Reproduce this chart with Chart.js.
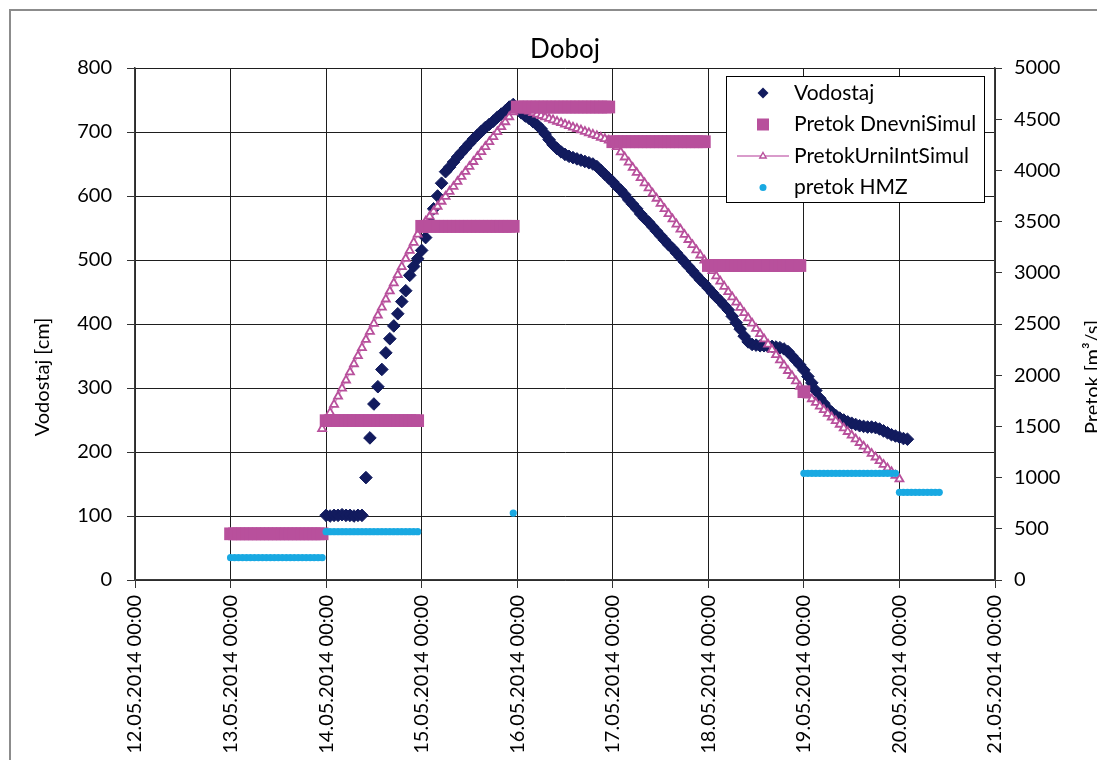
<!DOCTYPE html>
<html>
<head>
<meta charset="utf-8">
<title>Doboj</title>
<script src="https://cdn.jsdelivr.net/npm/chart.js@4.4.1/dist/chart.umd.min.js"></script>
<style>
  html, body { margin: 0; padding: 0; background: #fff; overflow: hidden; }
  #wrap { position: absolute; left: 0; top: 0; width: 1180px; height: 860px; }
  canvas { display: block; }
</style>
</head>
<body>
<div id="wrap"><canvas id="chart" width="1180" height="860"></canvas></div>
<script>
// Time axis: hours counted from 12.05.2014 00:00, one tick per day
const dayTicks = [
  '12.05.2014 00:00', '13.05.2014 00:00', '14.05.2014 00:00', '15.05.2014 00:00',
  '16.05.2014 00:00', '17.05.2014 00:00', '18.05.2014 00:00', '19.05.2014 00:00',
  '20.05.2014 00:00', '21.05.2014 00:00'
];

// Vodostaj [cm], hourly from 14.05.2014 00:00
const vodostajStartHour = 48;
const vodostaj = [
  101,100,101,101,102,101,101,100,101,101,
  160,222,275,302,329,355,377,397,416,435,452,476,490,502,
  515,535,560,580,600,620,638,645,653,661,668,675,682,689,695,701,707,712,717,723,728,733,739,743,
  736,730,725,721,716,711,705,697,688,680,674,669,665,662,660,658,656,654,652,650,646,640,634,628,
  622,615,609,602,594,587,580,572,565,559,552,545,538,531,524,518,511,504,497,490,483,476,469,463,
  456,449,442,436,429,422,412,402,392,381,372,368,367,366,366,365,365,364,363,361,357,350,343,336,
  328,318,308,296,284,276,268,262,257,253,250,247,245,243,241,240,239,239,238,236,233,230,227,225,
  223,221,220
];

// PretokUrniIntSimul [m3/s], hourly from 13.05.2014 23:00
const urniStartHour = 47;
const pretokUrniIntSimul = [
  1477,
  1556,1635,1714,1793,1872,1951,2031,2110,2189,2268,2347,2426,2505,2584,2663,2742,2821,2900,2980,3059,3138,3217,3296,3375,
  3454,3503,3551,3600,3648,3697,3745,3794,3842,3891,3939,3988,4037,4085,4134,4182,4231,4279,4328,4376,4425,4473,4522,4571,
  4619,4605,4591,4577,4563,4548,4534,4520,4506,4492,4478,4464,4450,4435,4421,4407,4393,4379,4365,4351,4337,4322,4308,4294,
  4280,4230,4179,4129,4079,4028,3978,3927,3877,3827,3776,3726,3676,3625,3575,3524,3474,3424,3373,3323,3273,3222,3172,3121,
  3071,3020,2968,2917,2866,2814,2763,2712,2660,2609,2558,2506,2455,2404,2352,2301,2250,2198,2147,2096,2044,1993,1942,1890,
  1839,1803,1768,1732,1697,1661,1626,1590,1554,1519,1483,1448,1412,1376,1341,1305,1270,1234,1199,1163,1127,1092,1056,1021,
  985
];

// Pretok DnevniSimul [m3/s], hourly runs starting at the given hours
const dnevniStartHours = [24, 48, 72, 96, 120, 144, 168];
const pretokDnevniSimul = [
  [451,451,451,451,451,451,451,451,451,451,451,451,451,451,451,451,451,451,451,451,451,451,451,451],
  [1556,1556,1556,1556,1556,1556,1556,1556,1556,1556,1556,1556,1556,1556,1556,1556,1556,1556,1556,1556,1556,1556,1556,1556],
  [3454,3454,3454,3454,3454,3454,3454,3454,3454,3454,3454,3454,3454,3454,3454,3454,3454,3454,3454,3454,3454,3454,3454,3454],
  [4619,4619,4619,4619,4619,4619,4619,4619,4619,4619,4619,4619,4619,4619,4619,4619,4619,4619,4619,4619,4619,4619,4619,4619],
  [4280,4280,4280,4280,4280,4280,4280,4280,4280,4280,4280,4280,4280,4280,4280,4280,4280,4280,4280,4280,4280,4280,4280,4280],
  [3071,3071,3071,3071,3071,3071,3071,3071,3071,3071,3071,3071,3071,3071,3071,3071,3071,3071,3071,3071,3071,3071,3071,3071],
  [1839]
];

// pretok HMZ [m3/s], hourly runs starting at the given hours
const hmzStartHours = [24, 48, 95, 168, 192];
const pretokHMZ = [
  [218,218,218,218,218,218,218,218,218,218,218,218,218,218,218,218,218,218,218,218,218,218,218,218],
  [472,472,472,472,472,472,472,472,472,472,472,472,472,472,472,472,472,472,472,472,472,472,472,472],
  [654],
  [1042,1042,1042,1042,1042,1042,1042,1042,1042,1042,1042,1042,1042,1042,1042,1042,1042,1042,1042,1042,1042,1042,1042,1042],
  [856,856,856,856,856,856,856,856,856,856,856]
];

const leftTicks = [0, 100, 200, 300, 400, 500, 600, 700, 800];
const rightTicks = [0, 500, 1000, 1500, 2000, 2500, 3000, 3500, 4000, 4500, 5000];

// ---- helpers that turn the runs into {x, y} points ----
function hourly(start, values) {
  return values.map((v, i) => ({ x: start + i, y: v }));
}
function runs(starts, groups) {
  return groups.flatMap((g, k) => hourly(starts[k], g));
}

const FONT = 'Lato, "Open Sans", sans-serif';
const NAVY = '#121b5e';
const MAGENTA = '#b8509c';
const PINK_LINE = '#d99bcb';
const SKY = '#19a9e2';
const GRID = '#1e1e1e';

const CANVAS_W = 1180, CANVAS_H = 860;
const AREA = { left: 135, right: 995, bottom: 580 };

// Frame, axis titles and the boxed legend inside the plot
const decor = {
  id: 'decor',
  beforeDraw(chart) {
    const { ctx, width, height } = chart;
    ctx.save();
    ctx.fillStyle = '#ffffff';
    ctx.fillRect(0, 0, width, height);
    ctx.strokeStyle = '#8c8c8c';
    ctx.lineWidth = 2;
    ctx.strokeRect(10, 10, width - 20, height - 20);
    ctx.restore();
  },
  afterDraw(chart) {
    const { ctx } = chart;
    ctx.save();
    ctx.fillStyle = '#000';
    ctx.font = '20px ' + FONT;
    ctx.textAlign = 'center';
    ctx.textBaseline = 'middle';
    // left axis title
    ctx.save();
    ctx.translate(43, 377);
    ctx.rotate(-Math.PI / 2);
    ctx.fillText('Vodostaj [cm]', 0, 0);
    ctx.restore();
    // right axis title
    ctx.save();
    ctx.translate(1093, 377);
    ctx.rotate(-Math.PI / 2);
    ctx.fillText('Pretok [m\u00B3/s]', 0, 0);
    ctx.restore();

    // legend box
    const bx = 726.5, by = 76.5, bw = 258, bh = 126;
    ctx.fillStyle = '#ffffff';
    ctx.fillRect(bx, by, bw, bh);
    ctx.strokeStyle = '#000';
    ctx.lineWidth = 1;
    ctx.strokeRect(bx, by, bw, bh);

    const ds = chart.data.datasets;
    const rows = [93, 124.5, 156, 187.5];
    const mx = 763, tx = 794;
    // Vodostaj diamond
    ctx.fillStyle = NAVY;
    ctx.beginPath();
    ctx.moveTo(mx, rows[0] - 5.5); ctx.lineTo(mx + 5.5, rows[0]);
    ctx.lineTo(mx, rows[0] + 5.5); ctx.lineTo(mx - 5.5, rows[0]);
    ctx.closePath(); ctx.fill();
    // DnevniSimul square
    ctx.fillStyle = MAGENTA;
    ctx.fillRect(mx - 6, rows[1] - 6, 12, 12);
    // UrniIntSimul line + triangle
    ctx.strokeStyle = PINK_LINE;
    ctx.lineWidth = 2;
    ctx.beginPath(); ctx.moveTo(737, rows[2]); ctx.lineTo(789, rows[2]); ctx.stroke();
    ctx.strokeStyle = MAGENTA;
    ctx.fillStyle = '#fff';
    ctx.lineWidth = 1.4;
    ctx.beginPath();
    ctx.moveTo(mx, rows[2] - 3.5); ctx.lineTo(mx + 3.2, rows[2] + 2); ctx.lineTo(mx - 3.2, rows[2] + 2);
    ctx.closePath(); ctx.fill(); ctx.stroke();
    // HMZ dot
    ctx.fillStyle = SKY;
    ctx.beginPath(); ctx.arc(mx, rows[3], 3.5, 0, Math.PI * 2); ctx.fill();

    ctx.fillStyle = '#000';
    ctx.font = '21px ' + FONT;
    ctx.textAlign = 'left';
    ctx.textBaseline = 'middle';
    ds.forEach((d, i) => ctx.fillText(d.label, tx, rows[i]));
    ctx.restore();
  }
};

new Chart(document.getElementById('chart'), {
  type: 'scatter',
  data: {
    datasets: [
      {
        label: 'Vodostaj',
        data: hourly(vodostajStartHour, vodostaj),
        yAxisID: 'y',
        pointStyle: 'rectRot',
        pointRadius: 6.3,
        pointBorderWidth: 1,
        pointBackgroundColor: NAVY,
        pointBorderColor: NAVY,
        showLine: false,
        order: 3
      },
      {
        label: 'Pretok DnevniSimul',
        data: runs(dnevniStartHours, pretokDnevniSimul),
        yAxisID: 'y1',
        pointStyle: 'rect',
        pointRadius: 9,
        pointBorderWidth: 0,
        pointBackgroundColor: MAGENTA,
        pointBorderColor: MAGENTA,
        showLine: false,
        order: 1
      },
      {
        label: 'PretokUrniIntSimul',
        data: hourly(urniStartHour, pretokUrniIntSimul),
        yAxisID: 'y1',
        showLine: true,
        borderColor: PINK_LINE,
        borderWidth: 1.5,
        pointStyle: 'triangle',
        pointRadius: 4.6,
        pointBorderWidth: 1.8,
        pointBackgroundColor: '#ffffff',
        pointBorderColor: MAGENTA,
        order: 2
      },
      {
        label: 'pretok HMZ',
        data: runs(hmzStartHours, pretokHMZ),
        yAxisID: 'y1',
        pointStyle: 'circle',
        pointRadius: 3.6,
        pointBorderWidth: 0,
        pointBackgroundColor: SKY,
        pointBorderColor: SKY,
        showLine: false,
        order: 0
      }
    ]
  },
  options: {
    responsive: false,
    animation: false,
    events: [],
    devicePixelRatio: 1,
    layout: { padding: { left: 0, right: 0, top: 0, bottom: 0 } },
    plugins: {
      legend: { display: false },
      tooltip: { enabled: false },
      title: {
        display: true,
        text: 'Doboj',
        fullSize: false,
        color: '#000',
        font: { family: FONT, size: 26, weight: 'normal', lineHeight: 1.2 },
        padding: { top: 34, bottom: 2.8 }
      }
    },
    scales: {
      x: {
        type: 'linear',
        position: 'bottom',
        min: 0,
        max: 216,
        afterBuildTicks(scale) {
          scale.ticks = dayTicks.map((_, i) => ({ value: i * 24 }));
        },
        afterFit(scale) { scale.height = CANVAS_H - AREA.bottom; },
        ticks: {
          autoSkip: false,
          minRotation: 90,
          maxRotation: 90,
          padding: 7,
          color: '#000',
          font: { family: FONT, size: 20 },
          callback: (v) => dayTicks[Math.round(v / 24)]
        },
        grid: { color: GRID, lineWidth: 1, tickLength: 8, tickColor: '#333' },
        border: { display: true, color: '#3a3a3a', width: 1.5 }
      },
      y: {
        type: 'linear',
        position: 'left',
        min: 0,
        max: 800,
        afterBuildTicks(scale) {
          scale.ticks = leftTicks.map(v => ({ value: v }));
        },
        afterFit(scale) { scale.width = AREA.left; },
        ticks: {
          padding: 15,
          color: '#000',
          font: { family: FONT, size: 20 },
          callback: (v) => String(v)
        },
        grid: { color: GRID, lineWidth: 1, tickLength: 8, tickColor: '#333' },
        border: { display: true, color: '#3a3a3a', width: 1.5 }
      },
      y1: {
        type: 'linear',
        position: 'right',
        min: 0,
        max: 5000,
        afterBuildTicks(scale) {
          scale.ticks = rightTicks.map(v => ({ value: v }));
        },
        afterFit(scale) { scale.width = CANVAS_W - AREA.right; },
        ticks: {
          padding: 12,
          color: '#000',
          font: { family: FONT, size: 20 },
          callback: (v) => String(v)
        },
        grid: { drawOnChartArea: false, color: '#333', tickLength: 7 },
        border: { display: true, color: '#3a3a3a', width: 1.5 }
      }
    }
  },
  plugins: [decor]
});
</script>
</body>
</html>
